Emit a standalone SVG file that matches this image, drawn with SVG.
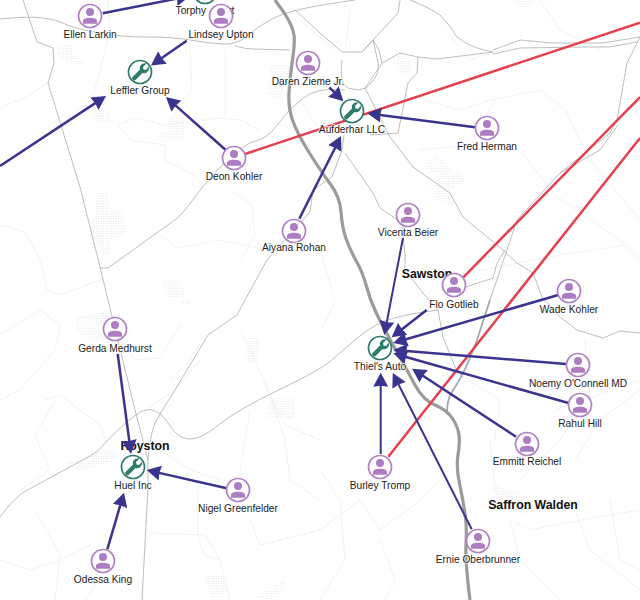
<svg xmlns="http://www.w3.org/2000/svg" width="640" height="600" viewBox="0 0 640 600">
<style>
text{font-family:"Liberation Sans",Arial,sans-serif}
.lb{font-size:10.2px;fill:#222;text-anchor:middle;stroke:#fff;stroke-width:2;stroke-opacity:.75;paint-order:stroke}
.city{font-size:12.3px;font-weight:700;fill:#111;text-anchor:middle;stroke:#fff;stroke-width:1.5;stroke-opacity:.7;paint-order:stroke}
.main{fill:none;stroke:#9b9b9b;stroke-width:3.2;stroke-linejoin:round}
.mid{fill:none;stroke:#a5a5a5;stroke-width:1.7;stroke-linejoin:round}
.r{fill:none;stroke:#b2b2b2;stroke-width:.85;stroke-linejoin:round}
.f{fill:none;stroke:#efefef;stroke-width:.8;stroke-linejoin:round}
.a{stroke:#3b348f;stroke-width:2.5;fill:none;marker-end:url(#h)}
.t{stroke-width:2}
.red{stroke:#e5404f;stroke-width:2.5;fill:none}
.pc{fill:#fff;stroke:#b07fc6;stroke-width:1.7}
.pi{fill:#ae7cc3}
.oc{fill:#fff;stroke:#2d7b69;stroke-width:1.7}
.oi{fill:#2d7b69}
</style>
<defs>
<marker id="h" markerUnits="userSpaceOnUse" markerWidth="18" markerHeight="18" refX="7" refY="8" orient="auto"><path d="M0,.5L14,8L0,15.5L1,8Z" fill="#3b348f"/></marker>
<pattern id="dots" width="2.5" height="2.5" patternUnits="userSpaceOnUse"><circle cx="1" cy="1" r=".45" fill="#c9c9c9"/></pattern>
<g id="p"><circle class="pc" r="11.5"/><circle class="pi" cy="-4" r="4"/><path class="pi" d="M-7,7.7V5C-7,2.7-4,1.7 0,1.7S7,2.7 7,5V7.7Z"/></g>
<g id="o"><circle class="oc" r="11.5"/><path class="oi" d="M-7.5,5L0,-2.5C-1,-6 2,-9.5 6.5,-8.5L3,-5L3.5,-2.5L6,-2L9,-5.5C10,-1.5 6,2.5 2.5,1L-4.5,8C-6,9.5-9,6.5-7.5,5Z"/></g>
</defs>
<rect width="640" height="600" fill="#fff"/>
<g id="map">
<g fill="url(#dots)">
<path d="M58,46L74,44L72,55L85,60L82,66L68,62L58,56Z"/>
<path d="M92,108L110,112L113,122L98,122L91,115Z"/>
<path d="M168,118L185,118L185,140L160,142L158,134L170,130Z"/>
<path d="M272,65L290,65L288,85L280,100L266,95L268,80Z"/>
<path d="M97,192L106,192L110,208L123,212L127,232L112,240L110,258L103,255L88,230L95,215Z"/>
<path d="M162,280L180,280L186,296L165,298Z"/>
<path d="M398,55L410,60L412,78L400,72L396,64Z"/>
<path d="M436,155L448,165L468,180L450,190L456,205L444,205L430,192L440,175L424,168Z"/>
<path d="M76,316L110,312L112,340L92,342L76,330Z"/>
<path d="M248,338L260,338L258,362L246,362Z"/>
<path d="M270,398L294,396L294,420L265,416Z"/>
<path d="M66,464L98,450L118,452L112,462L80,470Z"/>
<path d="M202,574L225,576L228,592L212,598L206,586Z"/>
<path d="M256,596L285,580L286,590L270,600Z"/>
<path d="M495,482L505,490L520,492L528,515L512,512L498,500Z"/>
<path d="M515,0L535,0L528,7L518,7Z"/>
<path d="M180,300L192,300L190,306L182,306Z"/>
</g>
<g class="f">
<path class="f" d="M48,83L30,95L0,108"/>
<path class="f" d="M108,0L110,30L100,70L92,100L50,132"/>
<path class="f" d="M135,118L118,125L130,140L165,145L165,160L195,175L205,190"/>
<path class="f" d="M135,118L165,125L220,118L240,120L260,130"/>
<path class="f" d="M190,45L192,90L170,120"/>
<path class="f" d="M225,50L225,115"/>
<path class="f" d="M0,225L25,232L40,258L47,290L60,295L100,280"/>
<path class="f" d="M160,235L178,248L220,240L265,250"/>
<path class="f" d="M230,190L252,205L255,235L240,262"/>
<path class="f" d="M0,335L40,310L60,325L55,350L20,390L0,400"/>
<path class="f" d="M45,400L60,395L100,425L110,450"/>
<path class="f" d="M55,400L35,435L50,470L20,490"/>
<path class="f" d="M170,380L190,360L205,335"/>
<path class="f" d="M240,330L255,360L265,385L285,425L320,440"/>
<path class="f" d="M200,360L175,390L145,410"/>
<path class="f" d="M100,310L135,360L160,358L180,325"/>
<path class="f" d="M145,440L190,470L235,485L245,470"/>
<path class="f" d="M250,410L240,470L245,480"/>
<path class="f" d="M265,380L285,440L290,480L320,500"/>
<path class="f" d="M198,490L198,540L205,555L220,560L230,600"/>
<path class="f" d="M148,533L205,535L220,560"/>
<path class="f" d="M35,510L60,555L55,600"/>
<path class="f" d="M0,560L30,570L60,560L90,545"/>
<path class="f" d="M110,545L105,570L85,600"/>
<path class="f" d="M250,520L260,545L320,530L360,500L380,530L415,505L440,480"/>
<path class="f" d="M320,470L340,500L345,560L320,600"/>
<path class="f" d="M380,540L395,580L385,600"/>
<path class="f" d="M510,520L530,530L580,520L640,510"/>
<path class="f" d="M510,520L520,560L560,600"/>
<path class="f" d="M575,510L590,550L640,590"/>
<path class="f" d="M610,500L620,560L640,570"/>
<path class="f" d="M490,440L495,490L505,510"/>
<path class="f" d="M585,340L590,400L560,440L520,480"/>
<path class="f" d="M640,390L600,420L575,460"/>
<path class="f" d="M320,250L335,300L322,330"/>
<path class="f" d="M460,375L500,400L495,440"/>
<path class="f" d="M425,100L460,110L490,100L540,90L565,110L590,160L640,220"/>
<path class="f" d="M445,30L470,60L500,50"/>
<path class="f" d="M540,0L560,30L600,50"/>
<path class="f" d="M520,150L555,195L620,240L640,260"/>
<path class="f" d="M420,150L470,145L495,100"/>
<path class="f" d="M430,280L560,255L625,245"/>
<path class="f" d="M350,10L345,50"/>
<path class="f" d="M300,20L335,50"/>
<path class="f" d="M300,100L320,130L345,145"/>
<path class="f" d="M555,410L640,380"/>
</g>
<path class="r" d="M0,19Q28,16 42.500,18Q57,20 65,24Q73,28 96.500,32.500Q120,37 146.500,37Q173,37 190,40Q207,43 222,44Q237,45 247,36Q257,27 270,20Q283,13 301.500,9Q320,5 355,0"/>
<path class="r" d="M235,46Q245,49 253,49L290,50"/>
<path class="r" d="M23,0L37,42L53,48L54,63L48,83L80,187L100,267L108,300L135,410L148,460L148,487L142,600"/>
<path class="r" d="M100,268L108,268L172,222Q180,217 190,203.500Q200,190 211.500,176.500Q223,163 235,153Q247,143 257,140.500Q267,138 276,126.500Q285,115 289,111Q293,107 301.500,99.500Q310,92 320,90.500Q330,89 345,90"/>
<path class="r" d="M0,517Q8,505 22,493L90,456Q98,452 102.500,446Q107,440 122,426.500Q137,413 143.500,410.500Q150,408 156.500,411.500Q163,415 170.500,426.500Q178,438 189,439Q200,440 218.500,425Q237,410 278.500,390Q320,370 330,361.500Q340,353 355,340Q370,327 385,321Q400,315 438,310"/>
<path class="r" d="M148,460Q150,435 155,423Q165,405 175,390L208,335L237,315L245,300L267,260L310,212L313,190L332,177L342,150L344,135"/>
<path class="r" d="M342,60C340,75 342,85 348,88L358,90L366,88C375,80 380,72 378,62L373,40L362,52L342,52L320,33L295,10"/>
<path class="r" d="M362,52L398,13L400,0"/>
<path class="r" d="M410,0Q430,8 440,15Q450,25 457,37Q470,48 493,52L437,59L418,57L400,53L382,63L365,88L390,137L413,167L450,193L463,217L503,250L517,263L533,273L542,297L560,317L577,330L603,338L620,331L640,333"/>
<path class="r" d="M373,40L379,50L382,63"/>
<path class="r" d="M418,57L417,73L408,83L398,133L370,135"/>
<path class="r" d="M345,153L373,193L380,208L402,223L405,255L405,270L423,293L438,310L443,337L455,367L463,378"/>
<path class="r" d="M463,288L493,278L497,263L505,250"/>
<path class="r" d="M493,50L520,40L553,43L603,43L640,37"/>
<path class="r" d="M493,54L520,48L587,47L610,47L637,42"/>
<path class="r" d="M617,120L640,100"/>
<path class="r" d="M560,173L600,150L618,125"/>
<path class="r" d="M490,300L507,250L517,220L560,173L610,133L617,120L627,63L640,37"/>
<path class="mid" d="M447,412Q447,400 452,392Q463,375 470,358L477,340L490,300"/>
<path class="main" d="M275,0L285,14Q293,27 294,35Q295,43 292.500,60Q290,77 289,92Q288,107 292.500,120Q297,133 308.500,151.500Q320,170 330,183.500Q340,197 341,212Q342,227 346,238.500Q350,250 356.500,261.500Q363,273 366.500,286.500Q370,300 376.500,313.500Q383,327 395,348.500Q407,370 415,385Q423,400 435,405Q447,410 452.500,418.500Q458,427 459,435Q460,443 458,455Q456,467 459.500,483.500Q463,500 465,513.500Q467,527 466,543.500Q465,560 470,600"/>
<text class="city" x="427" y="278">Sawston</text>
<text class="city" x="145" y="450">Royston</text>
<text class="city" x="533" y="509">Saffron Walden</text>
</g>
<g id="connectors">
<line class="red" x1="245" y1="154" x2="640" y2="22.600"/>
<line class="red" x1="463.300" y1="277.300" x2="640" y2="97"/>
<line class="red" x1="388.300" y1="456.700" x2="640" y2="138"/>
<line class="a" x1="102.700" y1="13.300" x2="183" y2="-2.600"/>
<line class="a" x1="186.700" y1="40.700" x2="156.700" y2="61.500"/>
<line class="a" x1="0" y1="166" x2="100.200" y2="99.900"/>
<line class="a" x1="225.700" y1="150" x2="171.200" y2="101.600"/>
<line class="a" x1="329.300" y1="87.300" x2="338.400" y2="96.400"/>
<line class="a" x1="299.300" y1="218.700" x2="337.900" y2="142.300"/>
<line class="a" x1="475" y1="127.300" x2="374.200" y2="114.200"/>
<line class="a t" x1="403" y1="238" x2="385.600" y2="328.100"/>
<line class="a" x1="426.700" y1="310" x2="397.200" y2="333"/>
<line class="a" x1="558.300" y1="295" x2="400" y2="341"/>
<line class="a" x1="566" y1="364" x2="400.300" y2="350.600"/>
<line class="a" x1="569.300" y1="403.300" x2="400" y2="355.200"/>
<line class="a" x1="516" y1="436.700" x2="417.900" y2="372.500"/>
<line class="a t" x1="380.700" y1="454" x2="380.700" y2="379.700"/>
<line class="a t" x1="471.700" y1="529.300" x2="395.900" y2="379.200"/>
<line class="a" x1="117.700" y1="354" x2="130.100" y2="447"/>
<line class="a" x1="226.700" y1="488.300" x2="153.500" y2="471.600"/>
<line class="a" x1="107.300" y1="549.300" x2="122" y2="499.400"/>
</g>
<g id="torphy"><use href="#o" x="205" y="-8"/><text class="lb" x="205" y="14">Torphy - Hart</text></g>
<g id="leffler"><use href="#o" x="140" y="72"/><text class="lb" x="140" y="94">Leffler Group</text></g>
<g id="aufderhar"><use href="#o" x="352" y="111"/><text class="lb" x="352" y="133">Aufderhar LLC</text></g>
<g id="thiel"><use href="#o" x="380" y="348"/><text class="lb" x="380" y="370">Thiel's Auto</text></g>
<g id="huel"><use href="#o" x="133" y="467"/><text class="lb" x="133" y="489">Huel Inc</text></g>
<g id="ellen"><use href="#p" x="90" y="16"/><text class="lb" x="90" y="38">Ellen Larkin</text></g>
<g id="lindsey"><use href="#p" x="221" y="16"/><text class="lb" x="221" y="38">Lindsey Upton</text></g>
<g id="daren"><use href="#p" x="308" y="63"/><text class="lb" x="308" y="85">Daren Zieme Jr.</text></g>
<g id="fred"><use href="#p" x="487" y="128"/><text class="lb" x="487" y="150">Fred Herman</text></g>
<g id="deon"><use href="#p" x="234" y="158"/><text class="lb" x="234" y="180">Deon Kohler</text></g>
<g id="aiyana"><use href="#p" x="294" y="231"/><text class="lb" x="294" y="251">Aiyana Rohan</text></g>
<g id="vicenta"><use href="#p" x="408" y="215"/><text class="lb" x="408" y="236">Vicenta Beier</text></g>
<g id="flo"><use href="#p" x="454" y="285"/><text class="lb" x="454" y="308">Flo Gotlieb</text></g>
<g id="wade"><use href="#p" x="569" y="291"/><text class="lb" x="569" y="313">Wade Kohler</text></g>
<g id="noemy"><use href="#p" x="578" y="365"/><text class="lb" x="578" y="387">Noemy O'Connell MD</text></g>
<g id="rahul"><use href="#p" x="580" y="405"/><text class="lb" x="580" y="427">Rahul Hill</text></g>
<g id="emmitt"><use href="#p" x="527" y="444"/><text class="lb" x="527" y="465">Emmitt Reichel</text></g>
<g id="burley"><use href="#p" x="380" y="467"/><text class="lb" x="380" y="489">Burley Tromp</text></g>
<g id="ernie"><use href="#p" x="478" y="541"/><text class="lb" x="478" y="563">Ernie Oberbrunner</text></g>
<g id="gerda"><use href="#p" x="115" y="329"/><text class="lb" x="115" y="352">Gerda Medhurst</text></g>
<g id="nigel"><use href="#p" x="238" y="490"/><text class="lb" x="238" y="512">Nigel Greenfelder</text></g>
<g id="odessa"><use href="#p" x="103" y="561"/><text class="lb" x="103" y="583">Odessa King</text></g>
</svg>
